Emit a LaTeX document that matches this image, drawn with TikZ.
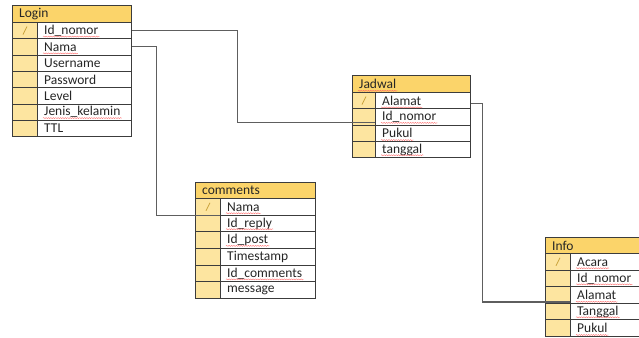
\documentclass[tikz,border=0pt]{standalone}
\usepackage{fontspec}
\setmainfont{Carlito}
\usetikzlibrary{decorations.pathmorphing}
\definecolor{hdr}{HTML}{FBD46A}
\definecolor{keyc}{HTML}{FDE5A0}
\definecolor{bord}{HTML}{3C3C3C}
\definecolor{conn}{HTML}{5E5E5E}
\definecolor{keym}{HTML}{C9A23A}
\tikzset{
  hdrbox/.style={draw=bord, fill=hdr, line width=0.9pt, inner sep=0pt, rectangle},
  keybox/.style={draw=bord, fill=keyc, line width=0.9pt, inner sep=0pt, rectangle},
  rowbox/.style={draw=bord, fill=white, line width=0.9pt, inner sep=0pt, rectangle},
  txt/.style={anchor=west, inner sep=1pt, text=black!85},
  squig/.style={draw=red!60, line width=0.35pt, decorate, decoration={snake, amplitude=0.55pt, segment length=2.4pt}},
  keymark/.style={draw=keym, line width=0.8pt},
  connector/.style={draw=conn, line width=1.1pt}
}
\newcommand\erTable[9]{%
  % #1 name, #2 left, #3 top, #4 key x, #5 right, #6 header bottom, #7 row h, #8 header, #9 rows
  \node[hdrbox, anchor=north west, minimum width={#5-#2}, minimum height={#6-#3}] (#1) at (#2,#3) {};
  \node[txt] (#1-h) at ([xshift=6pt]#1.west) {#8};
  \foreach \rtxt [count=\i] in {#9} {
    \pgfmathsetmacro\yy{#6+(\i-1)*#7}
    \node[keybox, anchor=north west, minimum width={#4-#2}, minimum height={#7}] (#1-k\i) at (#2,\yy) {};
    \node[rowbox, anchor=north west, minimum width={#5-#4}, minimum height={#7}] (#1-\i) at (#4,\yy) {};
    \node[txt] (#1-t\i) at ([xshift=6pt]#1-\i.west) {\rtxt};
  }
  \draw[keymark] ([xshift=-2pt,yshift=-4pt]#1-k1.center) -- ([xshift=2pt,yshift=4pt]#1-k1.center);
}
\begin{document}
\begin{tikzpicture}[x=1pt,y=-1pt,font=\fontsize{13.5}{15}\selectfont]
\useasboundingbox (0,0) rectangle (639,337);
\clip (0,0) rectangle (639,337);

\erTable{login}{12}{5}{37}{131}{22}{16.3}{Login}{Id\_nomor,Nama,Username,Password,Level,Jenis\_kelamin,TTL}
\erTable{jadwal}{352}{75}{375}{470}{92}{16.3}{Jadwal}{Alamat,Id\_nomor,Pukul,tanggal}
\erTable{comments}{195}{182}{220}{315}{198}{16.65}{comments}{Nama,Id\_reply,Id\_post,Timestamp,Id\_comments,message}
\erTable{info}{545}{237}{570}{648}{253}{16.6}{Info}{Acara,Id\_nomor,Alamat,Tanggal,Pukul}

% spell-check underlines
\foreach \n in {login-t1,login-t2,login-t6,jadwal-h,jadwal-t1,jadwal-t2,jadwal-t3,jadwal-t4,comments-t1,comments-t2,comments-t3,comments-t5,info-t1,info-t2,info-t3,info-t4,info-t5}
  \draw[squig] ([yshift=-2.2pt]\n.base west) -- ([yshift=-2.2pt]\n.base east);

% connectors
\coordinate (c1) at ([xshift=106pt]login-1.east);
\draw[connector] (login-1.east) -- (c1) |- ([yshift=-6pt]jadwal-2.west);
\coordinate (c2) at ([xshift=25pt]login-2.east);
\draw[connector] (login-2.east) -- (c2) |- (comments-1.south west);
\coordinate (c3) at ([xshift=12pt,yshift=-3pt]jadwal-1.east);
\draw[connector] ([yshift=-3pt]jadwal-1.east) -- (c3) |- ([yshift=-7pt]info-3.west);
\end{tikzpicture}
\end{document}
